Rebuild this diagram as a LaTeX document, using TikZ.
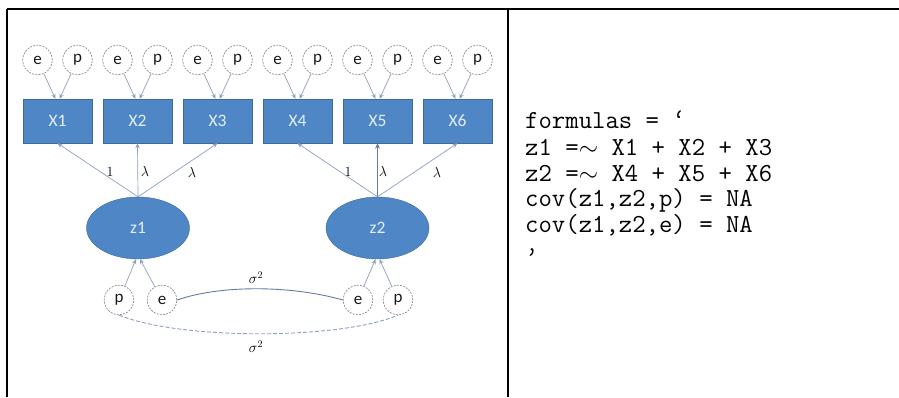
\documentclass[tikz,border=0pt]{standalone}
\usepackage{fontspec}
\newfontfamily\diagfont{Carlito}
\usetikzlibrary{arrows.meta,shapes.geometric}
\definecolor{boxblue}{RGB}{79,134,198}
\definecolor{boxedge}{RGB}{62,106,152}
\definecolor{boxtext}{RGB}{228,238,250}
\definecolor{circedge}{RGB}{140,140,140}
\definecolor{linkc}{RGB}{140,160,188}
\definecolor{linkdark}{RGB}{100,124,158}
\begin{document}
\begin{tikzpicture}[x=1pt,y=-1pt,
  obsbox/.style={draw=boxedge,fill=boxblue,minimum width=69pt,minimum height=44pt,inner sep=0pt,
    font=\diagfont\fontsize{17.5}{19}\selectfont,text=boxtext},
  latent/.style={ellipse,draw=boxedge,fill=boxblue,minimum width=103pt,minimum height=62pt,inner sep=0pt,
    font=\diagfont\fontsize{17.5}{19}\selectfont,text=boxtext},
  errc/.style={circle,draw=circedge,dash pattern=on 2pt off 1.2pt,line width=0.7pt,minimum size=29.5pt,inner sep=0pt,
    font=\diagfont\fontsize{17}{19}\selectfont,text=black!90},
  link/.style={draw=linkc,line width=0.7pt,-{Stealth[length=5pt,width=4.5pt]}},
  linkbold/.style={draw=linkdark,line width=1.3pt,-{Stealth[length=5.5pt,width=5pt]}},
  covsolid/.style={draw=linkdark,line width=0.9pt},
  covdash/.style={draw=linkc,line width=0.9pt,dash pattern=on 4pt off 2pt},
  lab/.style={font=\fontsize{14}{16}\selectfont,inner sep=0pt},
  code/.style={font=\ttfamily\fontsize{26}{26}\selectfont,anchor=base west,inner sep=0pt,
    text height=0.62em,text depth=0.18em},
  rule/.style={line width=1.3pt,draw=black}]

\useasboundingbox (0,0) rectangle (899,397);

% table rules
\draw[rule] (7,9) -- (899,9);
\draw[rule] (7,9) -- (7,397);
\draw[rule] (508,9) -- (508,397);

% observed variables with error circles
\foreach \i in {1,...,6} {
  \pgfmathsetmacro\cx{57.5+80*(\i-1)}
  \node[obsbox] (X\i) at (\cx,121) {X\i};
  \node[errc] (e\i) at (\cx-20,60) {e};
  \node[errc] (p\i) at (\cx+20,60) {p};
  \draw[link] (e\i) -- ([xshift=-2pt]X\i.north);
  \draw[link] (p\i) -- ([xshift=2pt]X\i.north);
}

% latent variables
\node[latent] (z1) at (138,228) {z1};
\node[latent] (z2) at (377.5,228) {z2};

\draw[link] (z1.north) -- (X1.south);
\draw[link] (z1.north) -- (X2.south);
\draw[link] (z1.north) -- (X3.south);
\draw[link] (z2.north) -- (X4.south);
\draw[linkbold] (z2.north) -- (X5.south);
\draw[link] (z2.north) -- (X6.south);

\node[lab] (l1) at (110,172) {1};
\node[lab] (l2) at (145,171) {$\lambda$};
\node[lab] (l3) at (192,172) {$\lambda$};
\node[lab] (l4) at (348,172) {1};
\node[lab] (l5) at (383,171) {$\lambda$};
\node[lab] (l6) at (437,172) {$\lambda$};

% latent error circles
\node[errc] (pz1) at (119,300) {p};
\node[errc] (ez1) at (162,300) {e};
\node[errc] (ez2) at (358,300) {e};
\node[errc] (pz2) at (398,300) {p};

\draw[link] (pz1) -- ([xshift=-2pt]z1.south);
\draw[link] (ez1) -- ([xshift=2pt]z1.south);
\draw[link] (ez2) -- ([xshift=-2pt]z2.south);
\draw[link] (pz2) -- ([xshift=2pt]z2.south);

\draw[covsolid] (ez1.east) .. controls (220,285) and (290,285) .. (ez2.west);
\node[lab] (s1) at (256,278) {$\sigma^2$};
\draw[covdash] (pz1.south) .. controls (180,340) and (340,340) .. (pz2.south);
\node[lab] (s2) at (256,347) {$\sigma^2$};

% code text
\node[code] (c1) at (525,128) {formulas = ‘};
\node[code] (c2) at (525,155.5) {z1 =$\sim$ X1 + X2 + X3};
\node[code] (c3) at (525,181) {z2 =$\sim$ X4 + X5 + X6};
\node[code] (c4) at (525,206.5) {cov(z1,z2,p) = NA};
\node[code] (c5) at (525,232) {cov(z1,z2,e) = NA};
\node[code] (c6) at (525,264) {’};
\end{tikzpicture}
\end{document}
